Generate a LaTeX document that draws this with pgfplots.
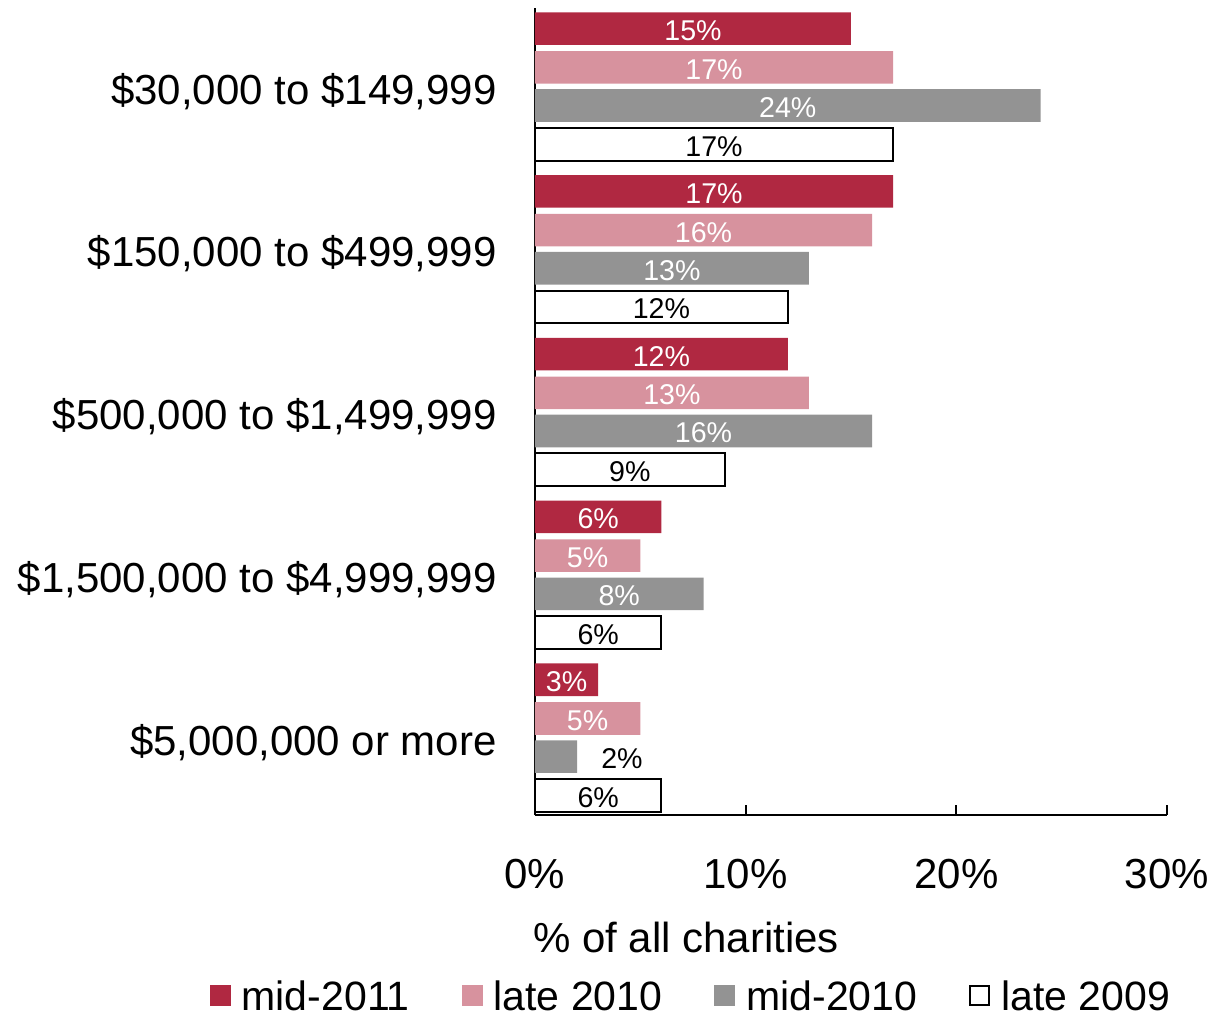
\documentclass[border=0pt]{standalone}
\usepackage{pgfplots}
\pgfplotsset{compat=1.18}
\usepackage{pgfplotstable}
\usepackage{fontspec}
\setmainfont{Liberation Sans}
\definecolor{cRed}{HTML}{B02841}
\definecolor{cPink}{HTML}{D7929E}
\definecolor{cGray}{HTML}{939393}

\pgfplotstableread{
c v
4 15
3 17
2 12
1 6
0 3
}\mideleven
\pgfplotstableread{
c v
4 17
3 16
2 13
1 5
0 5
}\lateten
\pgfplotstableread{
c v
4 24
3 13
2 16
1 8
0 2
}\midten
\pgfplotstableread{
c v
4 17
3 12
2 9
1 6
0 6
}\latenine

\begin{document}
\begin{tikzpicture}
\begin{axis}[
  at={(0pt,0pt)}, anchor=south west,
  scale only axis, width=316pt, height=403.5pt,
  xmin=0, xmax=30, ymin=-0.476, ymax=4.482,
  clip=false,
  axis lines*=left,
  axis line style={line width=1pt, black},
  /pgf/number format/assume math mode=true,
  xtick={0,10,20,30}, xticklabels={0\%,10\%,20\%,30\%},
  ytick={0,1,2,3,4},
  yticklabels={{\$5,000,000 or more},{\$1,500,000 to \$4,999,999},{\$500,000 to \$1,499,999},{\$150,000 to \$499,999},{\$30,000 to \$149,999}},
  tick align=inside, major tick length=5pt,
  xtick style={line width=1pt, black},
  ytick style={draw=none},
  xticklabel style={font=\fontsize{21}{25}\selectfont, anchor=base, inner sep=0pt, yshift=-36.5pt},
  yticklabel style={font=\fontsize{21}{25}\selectfont, anchor=base east, inner sep=0pt, xshift=-19pt, yshift=-8.8pt},
  xlabel={\% of all charities},
  xlabel style={at={(axis description cs:0.239,0)}, anchor=base, inner sep=0pt, yshift=-68.5pt, font=\fontsize{21}{25}\selectfont},
  legend columns=4,
  legend style={at={(axis description cs:0.245,-0.2255)}, anchor=center, draw=none, fill=none,
    font=\fontsize{20.5}{24}\selectfont, column sep=5.5pt,
    /tikz/every even column/.append style={column sep=26pt},
    inner sep=0pt, nodes={inner sep=0pt}},
  lbl/.style={forget plot, draw=none, mark=none,
    nodes near coords={\pgfmathprintnumber{\pgfplotspointmeta}\%},
    point meta=explicit,
    every node near coord/.append style={anchor=center, inner sep=0pt, yshift=-1pt, font=\fontsize{14.3}{16}\selectfont}},
]
\addplot[xbar, bar width=0.2, bar shift=0pt, fill=cRed, draw=none,
  legend image code/.code={\fill[cRed] (0pt,-4.5pt) rectangle (10.5pt,6pt);}] table[x=v, y expr=\thisrow{c}+0.355] {\mideleven};
\addplot[xbar, bar width=0.2, bar shift=0pt, fill=cPink, draw=none,
  legend image code/.code={\fill[cPink] (0pt,-4.5pt) rectangle (10.5pt,6pt);}] table[x=v, y expr=\thisrow{c}+0.117] {\lateten};
\addplot[xbar, bar width=0.2, bar shift=0pt, fill=cGray, draw=none,
  legend image code/.code={\fill[cGray] (0pt,-4.5pt) rectangle (10.5pt,6pt);}] table[x=v, y expr=\thisrow{c}-0.117] {\midten};
\addplot[xbar, bar width=0.2, bar shift=0pt, fill=white, draw=black, line width=1pt,
  legend image code/.code={\draw[black, fill=white, line width=1pt] (0.5pt,-4pt) rectangle (10pt,5.5pt);}] table[x=v, y expr=\thisrow{c}-0.355] {\latenine};
\legend{mid-2011, late 2010, mid-2010, late 2009}

\addplot[lbl, every node near coord/.append style={text=white}] table[x expr=\thisrow{v}/2, y expr=\thisrow{c}+0.355, meta=v] {\mideleven};
\addplot[lbl, every node near coord/.append style={text=white}] table[x expr=\thisrow{v}/2, y expr=\thisrow{c}+0.117, meta=v] {\lateten};
\addplot[lbl, skip coords between index={4}{5}, every node near coord/.append style={text=white}]
  table[x expr=\thisrow{v}/2, y expr=\thisrow{c}-0.117, meta=v] {\midten};
\addplot[lbl, skip coords between index={0}{4}, every node near coord/.append style={text=black}]
  table[x expr=\thisrow{v}+2.13, y expr=\thisrow{c}-0.117, meta=v] {\midten};
\addplot[lbl, every node near coord/.append style={text=black}] table[x expr=\thisrow{v}/2, y expr=\thisrow{c}-0.355, meta=v] {\latenine};
\end{axis}
\path[use as bounding box] (-267.5pt,-101pt) rectangle (345.5pt,407.5pt);
\end{tikzpicture}
\end{document}
